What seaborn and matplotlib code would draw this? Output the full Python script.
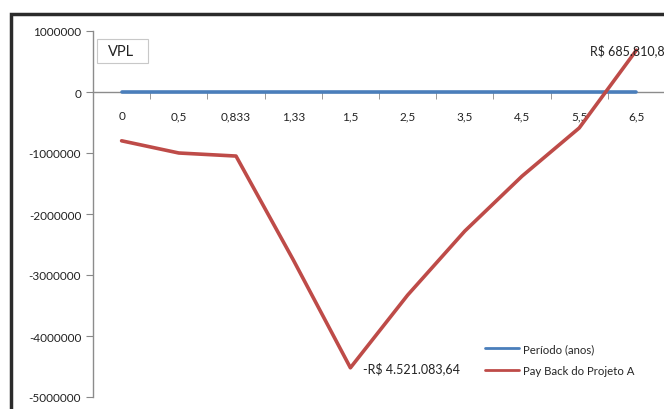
import seaborn as sns
import pandas as pd
import matplotlib.pyplot as plt
from matplotlib.patches import Rectangle

periodos = ['0', '0,5', '0,833', '1,33', '1,5', '2,5', '3,5', '4,5', '5,5', '6,5']
periodo_anos = [0, 0.5, 0.833, 1.33, 1.5, 2.5, 3.5, 4.5, 5.5, 6.5]
payback = [-800000, -1000000, -1050000, -2750000, -4521083.64,
           -3330000, -2280000, -1380000, -590000, 685810.88]
yticks = [1000000, 0, -1000000, -2000000, -3000000, -4000000, -5000000]

palette = {'Período (anos)': '#4a7ebb', 'Pay Back do Projeto A': '#be4b48'}

pos = list(range(len(periodos)))
df = pd.DataFrame({
    'pos': pos * 2,
    'valor': periodo_anos + payback,
    'serie': ['Período (anos)'] * len(pos) + ['Pay Back do Projeto A'] * len(pos),
})

sns.set_style('white')
plt.rcParams['font.family'] = ['Lato', 'DejaVu Sans']

W, H = 664, 410
fig = plt.figure(figsize=(W / 100, H / 100), dpi=100)
ax = fig.add_axes([93 / W, 12 / H, 572 / W, 366 / H])

sns.lineplot(data=df, x='pos', y='valor', hue='serie', palette=palette,
             linewidth=2.6, sort=False, ax=ax, legend=False)
for ln in ax.lines:
    ln.set_zorder(5)

ax.set_xlim(-0.5, len(periodos) - 0.5)
ax.set_ylim(-5000000, 1000000)
ax.set_yticks(yticks)
ax.set_yticklabels([str(v) for v in yticks], fontsize=8.5, color='#222222')
ax.tick_params(axis='y', length=5, color='#888888', direction='out', left=True)

# eixo x cruzando em zero, rótulos abaixo da linha
ax.spines['bottom'].set_position(('data', 0))
ax.set_xticks(pos)
ax.set_xticklabels(periodos, fontsize=8.5, color='#222222')
ax.set_xticks([p + 0.5 for p in pos[:-1]], minor=True)
ax.tick_params(axis='x', which='major', length=0, pad=13)
ax.tick_params(axis='x', which='minor', length=5, color='#888888',
               direction='out', bottom=True)
for s in ['top', 'right']:
    ax.spines[s].set_visible(False)
for s in ['left', 'bottom']:
    ax.spines[s].set_color('#8c8c8c')
    ax.spines[s].set_linewidth(1)
    ax.spines[s].set_zorder(1)
ax.set_xlabel('')
ax.set_ylabel('')

# rótulos de dados
ax.annotate('R$ 685.810,88', (pos[-1], payback[-1]), xytext=(-4, 0),
            textcoords='offset points', ha='center', va='center',
            fontsize=9, color='#222222', annotation_clip=False, zorder=6)
ax.annotate('-R$ 4.521.083,64', (pos[4], payback[4]), xytext=(9, 0),
            textcoords='offset points', ha='left', va='center',
            fontsize=9, color='#222222')

# caixa "VPL"
fig.add_artist(Rectangle((97 / W, 1 - 64 / H), 51 / W, 24 / H,
                         transform=fig.transFigure, fc='white',
                         ec='#c8c8c8', lw=0.8))
fig.text(121 / W, 1 - 52.5 / H, 'VPL', fontsize=10.5, ha='center', va='center',
         color='#222222')

handles = [plt.Line2D([], [], color=palette[k], lw=2) for k in palette]
ax.legend(handles, list(palette), loc='upper left', bbox_to_anchor=(0.667, 0.175),
          frameon=False, fontsize=8.2, handlelength=3.0, handletextpad=0.4,
          labelspacing=0.95)

fig.add_artist(Rectangle((10.5 / W, -0.05), 1.0, 1 - 14.5 / H + 0.05,
                         transform=fig.transFigure, fill=False,
                         ec='#2b2b2b', lw=2.5))

fig.savefig('out.png', dpi=100)
